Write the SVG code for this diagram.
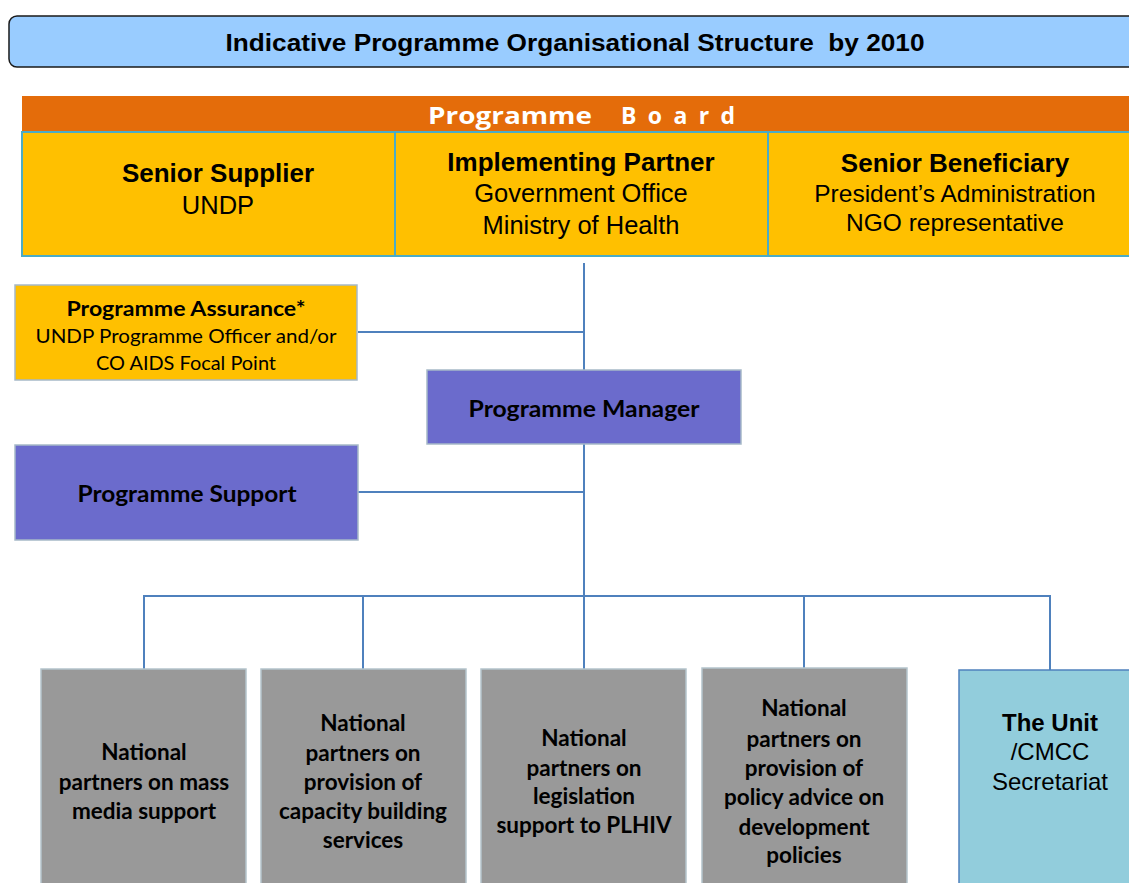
<svg xmlns="http://www.w3.org/2000/svg" width="1129" height="883" viewBox="0 0 1129 883">
  <style>
    .ar { font-family: "Liberation Sans", Arial, sans-serif; fill: #000; text-anchor: middle; dominant-baseline: central; }
    .cb { font-family: Lato, "Open Sans", sans-serif; fill: #000; text-anchor: middle; dominant-baseline: central; }
    .nat { font-family: Lato, "Open Sans", sans-serif; font-size: 22.5px; font-weight: bold; fill: #000; text-anchor: middle; dominant-baseline: central; }
    .hdr { font-family: "Open Sans", Lato, sans-serif; font-size: 23px; font-weight: bold; fill: #ffffff; dominant-baseline: central; }
    .board { fill: #ffc000; stroke: #4bacc6; stroke-width: 2; }
    .gold { fill: #ffc000; stroke: #a6b9c8; stroke-width: 1.5; }
    .violet { fill: #6b6bcc; stroke: #a6b9c8; stroke-width: 1.5; }
    .grey { fill: #999999; stroke: #b4c4cc; stroke-width: 1.5; }
    .unit { fill: #92cddc; stroke: #4f81bd; stroke-width: 1.5; }
    .link { fill: none; stroke: #4f81bd; stroke-width: 2; }
  </style>

  <!-- heading banner -->
  <g id="title">
    <rect x="9" y="16" width="1140" height="51" rx="8" ry="8" fill="#99ccff" stroke="#1a1a1a" stroke-width="1.5"/>
    <text class="ar" x="575" y="43" font-size="23" font-weight="bold" textLength="699" lengthAdjust="spacingAndGlyphs" xml:space="preserve">Indicative Programme Organisational Structure  by 2010</text>
  </g>

  <!-- board header and member cells -->
  <g id="programme-board">
    <rect x="22" y="96" width="1110" height="36" fill="#e46c0a"/>
    <text class="hdr" x="428" y="115" textLength="164" lengthAdjust="spacingAndGlyphs">Programme</text>
    <text class="hdr" x="621" y="115" textLength="114" lengthAdjust="spacing">Board</text>
  </g>
  <g id="senior-supplier">
    <rect class="board" x="22" y="132" width="373" height="124"/>
    <text class="ar" x="218" y="173" font-size="26" font-weight="bold">Senior Supplier</text>
    <text class="ar" x="218" y="205" font-size="25.5">UNDP</text>
  </g>
  <g id="implementing-partner">
    <rect class="board" x="395" y="132" width="373" height="124"/>
    <text class="ar" x="581" y="162" font-size="26" font-weight="bold">Implementing Partner</text>
    <text class="ar" x="581" y="193" font-size="25.5">Government Office</text>
    <text class="ar" x="581" y="225" font-size="25.5">Ministry of Health</text>
  </g>
  <g id="senior-beneficiary">
    <rect class="board" x="768" y="132" width="370" height="124"/>
    <text class="ar" x="955" y="163" font-size="26" font-weight="bold">Senior Beneficiary</text>
    <text class="ar" x="955" y="193" font-size="24.5">President’s Administration</text>
    <text class="ar" x="955" y="222" font-size="24.5">NGO representative</text>
  </g>

  <!-- connectors -->
  <g id="connectors">
    <path class="link" d="M584 263 V370"/>
    <path class="link" d="M358 332 H584"/>
    <path class="link" d="M584 444 V596"/>
    <path class="link" d="M358 492 H584"/>
    <path class="link" d="M144 669 V596 H1050 V670"/>
    <path class="link" d="M363 596 V669"/>
    <path class="link" d="M584 596 V669"/>
    <path class="link" d="M804 596 V668"/>
  </g>

  <g id="programme-assurance">
    <rect class="gold" x="15" y="285" width="342" height="95"/>
    <text class="cb" x="186" y="307" font-size="21" font-weight="bold" textLength="239" lengthAdjust="spacingAndGlyphs">Programme Assurance*</text>
    <text class="cb" x="186" y="335" font-size="20" textLength="301" lengthAdjust="spacingAndGlyphs">UNDP Programme Officer and/or</text>
    <text class="cb" x="186" y="362" font-size="20" textLength="180" lengthAdjust="spacingAndGlyphs">CO AIDS Focal Point</text>
  </g>

  <g id="programme-manager">
    <rect class="violet" x="427" y="370" width="314" height="74"/>
    <text class="cb" x="584" y="408" font-size="23" font-weight="bold" textLength="231" lengthAdjust="spacingAndGlyphs">Programme Manager</text>
  </g>

  <g id="programme-support">
    <rect class="violet" x="15" y="445" width="343" height="95"/>
    <text class="cb" x="187" y="493" font-size="23" font-weight="bold" textLength="219" lengthAdjust="spacingAndGlyphs">Programme Support</text>
  </g>

  <g id="mass-media">
    <rect class="grey" x="41" y="669" width="205" height="230"/>
    <text class="nat" x="144" y="751">National</text>
    <text class="nat" x="144" y="781">partners on mass</text>
    <text class="nat" x="144" y="810">media support</text>
  </g>

  <g id="capacity-building">
    <rect class="grey" x="261" y="669" width="205" height="230"/>
    <text class="nat" x="363" y="722">National</text>
    <text class="nat" x="363" y="752">partners on</text>
    <text class="nat" x="363" y="781">provision of</text>
    <text class="nat" x="363" y="810">capacity building</text>
    <text class="nat" x="363" y="839">services</text>
  </g>

  <g id="legislation">
    <rect class="grey" x="481" y="669" width="205" height="230"/>
    <text class="nat" x="584" y="737">National</text>
    <text class="nat" x="584" y="767">partners on</text>
    <text class="nat" x="584" y="795">legislation</text>
    <text class="nat" x="584" y="824">support to PLHIV</text>
  </g>

  <g id="policy-advice">
    <rect class="grey" x="702" y="668" width="205" height="230"/>
    <text class="nat" x="804" y="707">National</text>
    <text class="nat" x="804" y="738">partners on</text>
    <text class="nat" x="804" y="767">provision of</text>
    <text class="nat" x="804" y="796">policy advice on</text>
    <text class="nat" x="804" y="826">development</text>
    <text class="nat" x="804" y="854">policies</text>
  </g>

  <g id="the-unit">
    <rect class="unit" x="959" y="670" width="190" height="230"/>
    <text class="ar" x="1050" y="722" font-size="24" font-weight="bold">The Unit</text>
    <text class="ar" x="1050" y="751" font-size="24">/CMCC</text>
    <text class="ar" x="1050" y="781" font-size="24">Secretariat</text>
  </g>
</svg>
